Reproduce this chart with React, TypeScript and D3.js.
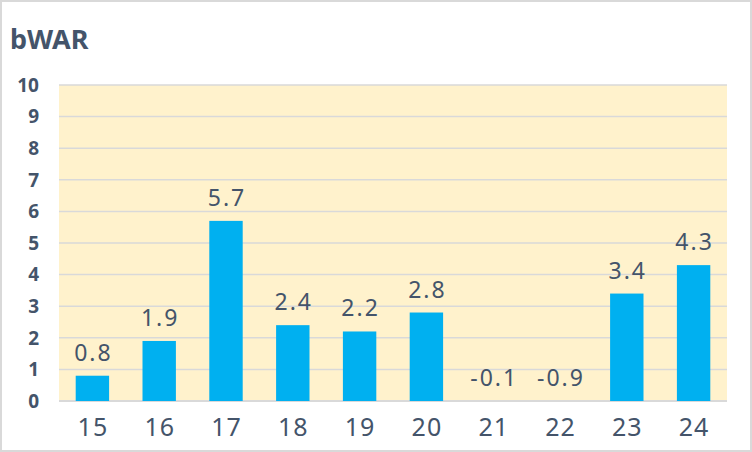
import React from "react";
import * as d3 from "d3";

const categories = ["15", "16", "17", "18", "19", "20", "21", "22", "23", "24"];
const values = [0.8, 1.9, 5.7, 2.4, 2.2, 2.8, -0.1, -0.9, 3.4, 4.3];
const yTicks = [0, 1, 2, 3, 4, 5, 6, 7, 8, 9, 10];
const title = "bWAR";

const W = 752;
const H = 452;
const plot = { left: 59, right: 727, top: 85, bottom: 401 };
const textColor = "#44546A";
const font = "'Noto Sans', 'Open Sans', sans-serif";

export default function App() {
  const x = d3
    .scaleBand<string>()
    .domain(categories)
    .range([plot.left, plot.right])
    .paddingInner(0.5)
    .paddingOuter(0.25);
  const y = d3.scaleLinear().domain([0, 10]).range([plot.bottom, plot.top]);

  return (
    <div style={{ position: "fixed", left: 0, top: 0 }}>
      <svg width={W} height={H} style={{ display: "block", background: "#fff" }}>
        <rect x={1} y={1} width={W - 2} height={H - 2} fill="#fff" stroke="#D9D9D9" strokeWidth={2} />
        <text x={10} y={49} fill={textColor} fontFamily={font} fontWeight={700} fontSize={27}>
          {title}
        </text>
        <rect
          x={plot.left}
          y={plot.top}
          width={plot.right - plot.left}
          height={plot.bottom - plot.top}
          fill="#FFF2CC"
        />
        {yTicks.map((t) => (
          <g key={t}>
            <line
              x1={plot.left}
              x2={plot.right}
              y1={y(t)}
              y2={y(t)}
              stroke="#D9D9D9"
              strokeWidth={t === 0 ? 2 : 1.5}
            />
            <text
              x={39}
              y={y(t)}
              dy="0.36em"
              textAnchor="end"
              fill={textColor}
              fontFamily={font}
              fontWeight={700}
              fontSize={19}
            >
              {t}
            </text>
          </g>
        ))}
        {categories.map((c, i) => {
          const v = values[i];
          const top = y(Math.max(0, v));
          const h = y(0) - top;
          const cx = (x(c) ?? 0) + x.bandwidth() / 2;
          return (
            <g key={c}>
              {h > 0 && <rect x={x(c)} y={top} width={x.bandwidth()} height={h} fill="#00B0F0" />}
              <text
                x={cx + 1}
                y={top - 15}
                textAnchor="middle"
                fill={textColor}
                fontFamily={font}
                fontSize={23}
                letterSpacing={2}
              >
                {v.toFixed(1)}
              </text>
              <text
                x={cx + 0.5}
                y={436}
                textAnchor="middle"
                fill={textColor}
                fontFamily={font}
                fontSize={25}
                letterSpacing={1}
              >
                {c}
              </text>
            </g>
          );
        })}
      </svg>
    </div>
  );
}
